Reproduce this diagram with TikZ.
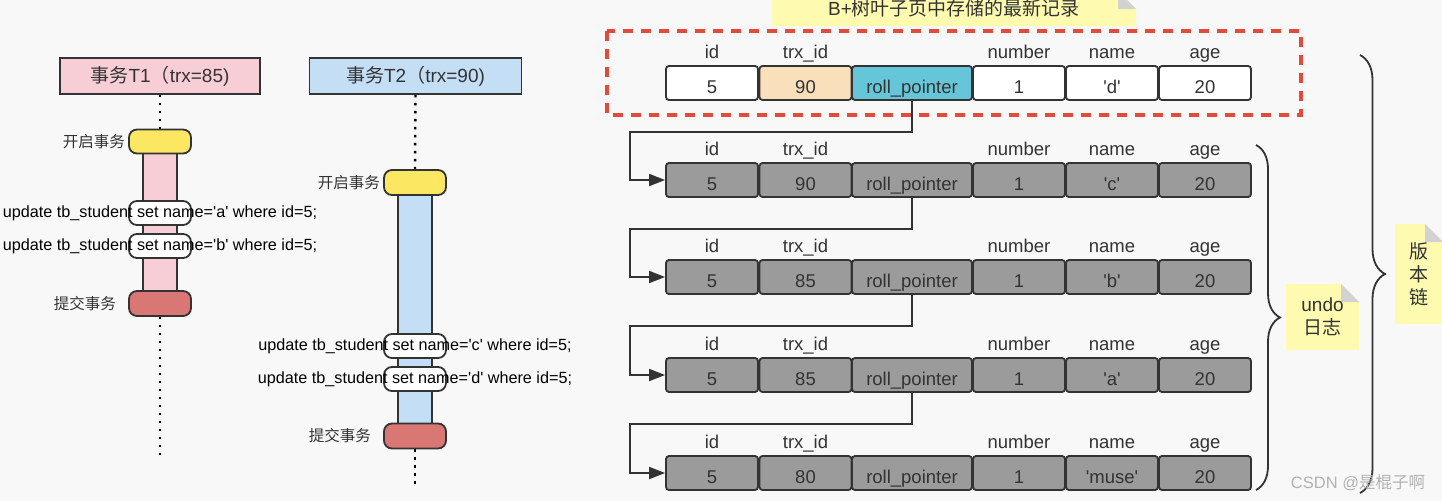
\documentclass[tikz,border=0pt]{standalone}
\usepackage{fontspec}
\setmainfont{Liberation Sans}[Ligatures=TeXOff]
\newfontfamily\cjk{Noto Sans CJK SC}
\usepackage{xcolor}
\usetikzlibrary{positioning, arrows.meta, decorations.pathreplacing}

\definecolor{pagebg}{HTML}{F8F8F8}
\definecolor{ink}{HTML}{333333}
\definecolor{tpink}{HTML}{F8CED6}
\definecolor{tblue}{HTML}{C4DEF6}
\definecolor{startyel}{HTML}{FCE762}
\definecolor{commitred}{HTML}{D87773}
\definecolor{undogray}{HTML}{9B9B9B}
\definecolor{trxorange}{HTML}{F9E0BA}
\definecolor{ptrteal}{HTML}{66C6D9}
\definecolor{notey}{HTML}{FEFBB0}
\definecolor{foldgray}{HTML}{D2D2D2}
\definecolor{dashred}{HTML}{E24A3B}

\newcommand{\zh}[1]{{\cjk #1}}

\tikzset{
  txhead/.style={draw=ink, line width=1.8pt, minimum width=200pt, minimum height=36pt,
    font=\fontsize{19}{23}\selectfont, text=ink},
  capsule/.style={draw=ink, line width=1.8pt, rounded corners=8pt, minimum width=62pt,
    minimum height=24pt, inner sep=0pt},
  sidelbl/.style={font=\cjk\fontsize{15.5}{18}\selectfont, text=ink, inner sep=0pt},
  sql/.style={font=\fontsize{16.2}{19}\selectfont, text=black, inner sep=0pt},
  lifeline/.style={black, line width=2.4pt, dash pattern=on 2.4pt off 5.6pt},
  bar/.style={draw=ink, line width=1.8pt},
  cell/.style={draw=ink, line width=1.8pt, rounded corners=3pt, minimum height=34pt,
    minimum width=92pt, inner sep=0pt, text height=22pt, text depth=1.7pt,
    font=\fontsize{18.5}{22}\selectfont, text=ink},
  colhead/.style={font=\fontsize{18.5}{22}\selectfont, text=ink, inner sep=0pt, anchor=base},
  ptr/.style={draw=ink, line width=1.8pt, -{Triangle[length=16pt, width=12pt]}},
  latest/.style={draw=dashred, line width=4pt, dash pattern=on 10pt off 8pt},
  curly/.style={draw=ink, line width=1.8pt, decorate, decoration={brace, amplitude=#1}},
  stickynote/.style={inner sep=0pt, align=center, text=ink,
    font=\fontsize{19}{23}\selectfont,
    path picture={
      \fill[notey] (path picture bounding box.south west)
        |- ([xshift=-18pt]path picture bounding box.north east)
        -- ([yshift=-18pt]path picture bounding box.north east)
        -- (path picture bounding box.south east) -- cycle;
      \fill[foldgray] ([xshift=-18pt]path picture bounding box.north east)
        -- ([xshift=-18pt, yshift=-18pt]path picture bounding box.north east)
        -- ([yshift=-18pt]path picture bounding box.north east) -- cycle;
    }},
}

\begin{document}
\begin{tikzpicture}[x=1pt, y=-1pt]
  \fill[pagebg] (0,0) rectangle (1442,501);
  \useasboundingbox (0,0) rectangle (1442,501);

  % ── Transaction T1 ──
  \node[txhead, fill=tpink] (t1) at (160,76) {\zh{事务}T1\zh{（}trx=85)};
  \draw[bar, fill=tpink] (143,148) rectangle (177,296);
  \node[capsule, fill=startyel] (t1start) at (160,141.5) {};
  \node[capsule, fill=white] (t1u1) at (160,213) {};
  \node[capsule, fill=white] (t1u2) at (160,246) {};
  \node[capsule, fill=commitred, minimum height=25pt] (t1commit) at (160,303.5) {};
  \node[sidelbl, left=3pt of t1start] (t1startlbl) {开启事务};
  \node[sidelbl, left=12pt of t1commit] (t1commitlbl) {提交事务};
  \node[sql] (t1u1sql) at (t1u1) {update tb\_student set name='a' where id=5;};
  \node[sql] (t1u2sql) at (t1u2) {update tb\_student set name='b' where id=5;};
  \coordinate (t1end) at (160,455);
  \draw[lifeline] (t1.south) -- (t1start.north);
  \draw[lifeline] (t1commit.south) -- (t1end);

  % ── Transaction T2 ──
  \node[txhead, fill=tblue, minimum width=212pt] (t2) at (415.5,76) {\zh{事务}T2\zh{（}trx=90)};
  \draw[bar, fill=tblue] (398,190) rectangle (432,430);
  \node[capsule, fill=startyel, minimum height=25pt] (t2start) at (415,182.5) {};
  \node[capsule, fill=white] (t2u1) at (415,346) {};
  \node[capsule, fill=white] (t2u2) at (415,379) {};
  \node[capsule, fill=commitred, minimum height=25pt] (t2commit) at (415,436) {};
  \node[sidelbl, left=3pt of t2start] (t2startlbl) {开启事务};
  \node[sidelbl, left=12pt of t2commit] (t2commitlbl) {提交事务};
  \node[sql] (t2u1sql) at (t2u1) {update tb\_student set name='c' where id=5;};
  \node[sql] (t2u2sql) at (t2u2) {update tb\_student set name='d' where id=5;};
  \coordinate (t2end) at (415,488);
  \draw[lifeline] (t2.south) -- (t2start.north);
  \draw[lifeline] (t2commit.south) -- (t2end);

  % ── Record + undo log rows ──
  \foreach \r/\yy/\trx/\nm/\plain/\trxfill/\ptrfill in {
    0/83/90/'d'/white/trxorange/ptrteal,
    1/180/90/'c'/undogray/undogray/undogray,
    2/277/85/'b'/undogray/undogray/undogray,
    3/375/85/'a'/undogray/undogray/undogray,
    4/473/80/'muse'/undogray/undogray/undogray} {
    \node[cell, fill=\plain] (r\r-id) at (712,\yy) {5};
    \node[cell, fill=\trxfill] (r\r-trx) at (805.5,\yy) {\trx};
    \node[cell, fill=\ptrfill, minimum width=120pt] (r\r-rp) at (912,\yy) {roll\_pointer};
    \node[cell, fill=\plain] (r\r-num) at (1019,\yy) {1};
    \node[cell, fill=\plain] (r\r-nm) at (1112,\yy) {\nm};
    \node[cell, fill=\plain] (r\r-age) at (1205,\yy) {20};
    \foreach \c/\lbl in {id/id, trx/trx\_id, num/number, nm/name, age/age}
      \node[colhead] (h\r-\c) at ([yshift=25pt]r\r-\c.center) {\lbl};
  }

  % roll pointers
  \foreach \a/\b in {0/1, 1/2, 2/3, 3/4}
    \draw[ptr] (r\a-rp.south) -- ++(0,31) -| ([xshift=-35pt]r\b-id.west) -- (r\b-id.west);

  % ── Latest record frame and notes ──
  \draw[latest] (607,31) rectangle (1301,115);
  \node[stickynote, minimum width=364pt, minimum height=35pt] (newest) at (954,8.5)
    {B+\zh{树叶子页中存储的最新记录}};

  \draw[curly=24pt] (1256,145) -- (1256,490);
  \node[stickynote, minimum width=73pt, minimum height=66pt] (undonote) at (1322.5,317)
    {undo\\\zh{日志}};

  \draw[curly=25pt] (1360,55) -- (1360,493);
  \node[stickynote, minimum width=48pt, minimum height=100pt] (chainnote) at (1419,274)
    {\zh{版}\\\zh{本}\\\zh{链}};

  \node[font=\fontsize{16.5}{18}\selectfont, text=black!30] (mark) at (1358,483)
    {CSDN @\zh{是棍子啊}};
\end{tikzpicture}
\end{document}
